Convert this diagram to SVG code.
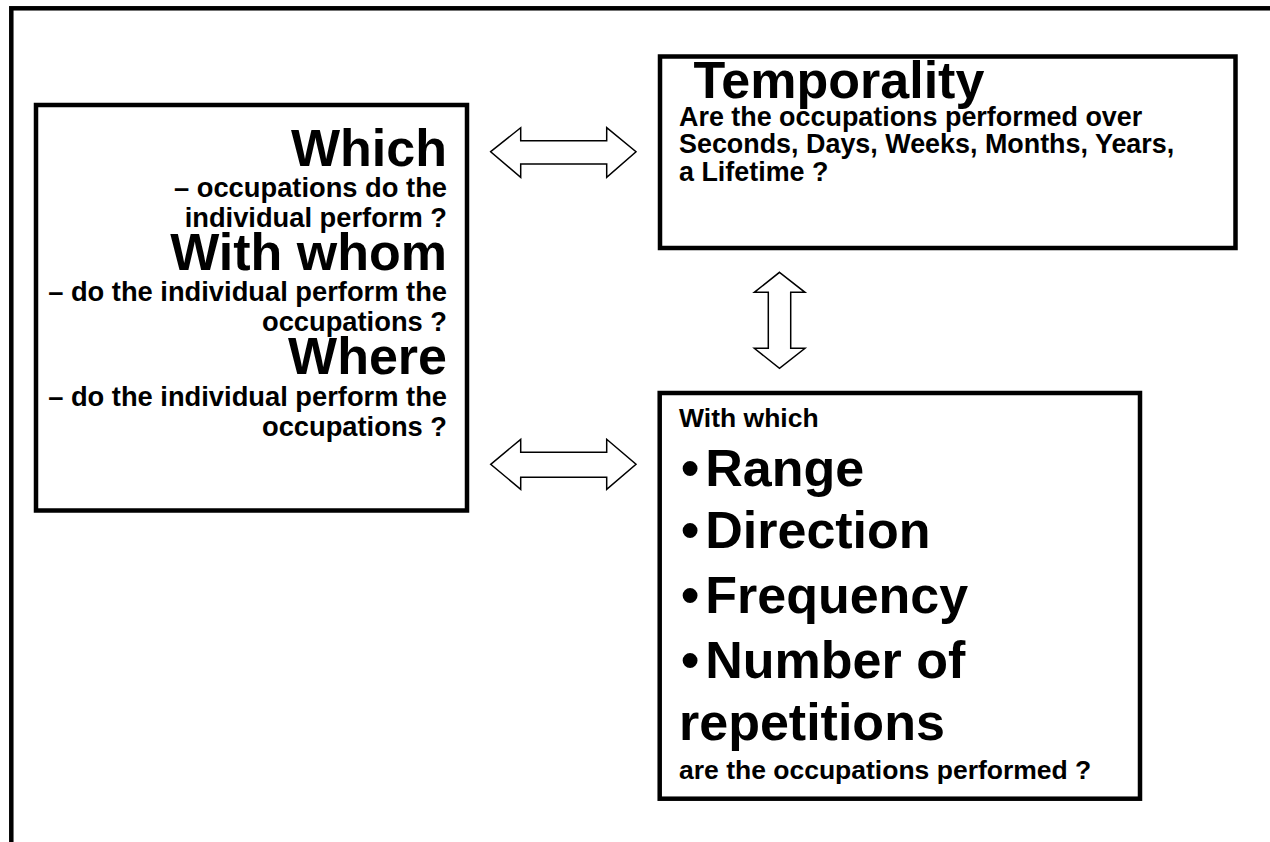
<svg xmlns="http://www.w3.org/2000/svg" width="1270" height="842" viewBox="0 0 1270 842">
<style>
.frame{fill:none;stroke:#000;stroke-width:4.5}
.box{fill:#fff;stroke:#000;stroke-width:4.5}
.arrow{fill:#fff;stroke:#000;stroke-width:1.5;stroke-linejoin:miter}
text{font-family:"Liberation Sans",Arial,sans-serif;font-weight:bold;fill:#000}
.h{font-size:52px}
.s{font-size:26.5px}
.sl{font-size:27.3px}
.st{font-size:26.9px}
.r{text-anchor:end}
</style>
<rect width="1270" height="842" fill="#fff"/>
<rect class="frame" x="11.3" y="8.3" width="1300" height="900"/>
<g id="node-left">
<rect class="box" x="36" y="105" width="431" height="405.5"/>
<text class="h r" x="447" y="166">Which</text>
<text class="sl r" x="447" y="197">– occupations do the</text>
<text class="sl r" x="447" y="227">individual perform ?</text>
<text class="h r" x="447" y="270">With whom</text>
<text class="sl r" x="447" y="301">– do the individual perform the</text>
<text class="sl r" x="447" y="331">occupations ?</text>
<text class="h r" x="447" y="374">Where</text>
<text class="sl r" x="447" y="406">– do the individual perform the</text>
<text class="sl r" x="447" y="436">occupations ?</text>
</g>
<g id="node-temporality">
<rect class="box" x="660" y="56.5" width="575.5" height="191.5"/>
<text class="h" x="679" y="98" xml:space="preserve"> Temporality</text>
<text class="st" x="679" y="126">Are the occupations performed over</text>
<text class="st" x="679" y="153">Seconds, Days, Weeks, Months, Years,</text>
<text class="st" x="679" y="181">a Lifetime ?</text>
</g>
<g id="node-measures">
<rect class="box" x="659.7" y="393" width="480.3" height="405.7"/>
<text class="s" x="679" y="427">With which</text>
<text class="h" x="681" y="486">•<tspan dx="6">Range</tspan></text>
<text class="h" x="681" y="548">•<tspan dx="6">Direction</tspan></text>
<text class="h" x="681" y="613">•<tspan dx="6">Frequency</tspan></text>
<text class="h" x="681" y="678">•<tspan dx="6">Number of</tspan></text>
<text class="h" x="679" y="740">repetitions</text>
<text class="s" x="679" y="779">are the occupations performed ?</text>
</g>
<g id="connectors">
<polygon class="arrow" points="490.7,151.7 520.7,127.7 520.7,140.7 606.7,140.7 606.7,127.7 636,151.7 606.7,177.3 606.7,164 520.7,164 520.7,177.3"/>
<polygon class="arrow" points="490.7,464.3 520.7,439.3 520.7,452.3 606.7,452.3 606.7,439.3 636,464.3 606.7,489.3 606.7,477.3 520.7,477.3 520.7,489.3"/>
<polygon class="arrow" points="779.5,272.3 805,292.3 790.7,292.3 790.7,348.3 805,348.3 779.5,368.3 754.3,348.3 768.3,348.3 768.3,292.3 754.3,292.3"/>
</g>
</svg>
